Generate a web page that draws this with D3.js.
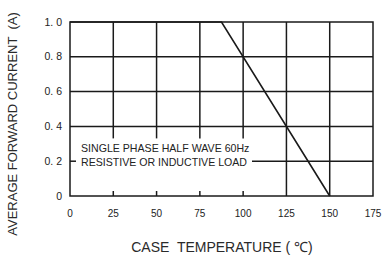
<!DOCTYPE html>
<html>
<head>
<meta charset="utf-8">
<script src="https://cdn.jsdelivr.net/npm/d3@7"></script>
<style>
  body { margin: 0; background: #fff; }
  svg { display: block; font-family: "Liberation Sans", Arial, sans-serif; }
</style>
</head>
<body>
<div id="chart"></div>
<script>
// data
var xTicks = [0, 25, 50, 75, 100, 125, 150, 175];
var yTicks = [0, 0.2, 0.4, 0.6, 0.8, 1.0];
var yTickLabels = ["0", "0. 2", "0. 4", "0. 6", "0. 8", "1. 0"];
var curveTemp = [0, 87.5, 150];
var curveCurrent = [1.0, 1.0, 0];
var noteLines = ["SINGLE PHASE HALF WAVE 60Hz", "RESISTIVE OR INDUCTIVE LOAD"];

var margin = {top: 22, right: 13, bottom: 63, left: 70},
  width = 386 - margin.left - margin.right,
  height = 259 - margin.top - margin.bottom;

var svg = d3.select("#chart")
  .append("svg")
    .attr("width", 386)
    .attr("height", 259)
  .append("g")
    .attr("transform", "translate(" + margin.left + "," + margin.top + ")");

var x = d3.scaleLinear().domain([0, 175]).range([0, width]);
var y = d3.scaleLinear().domain([0, 1]).range([height, 0]);

var ink = "#1a1a1a";
var boxRight = 252 - margin.left; // text box edge (0.2 line starts here)

// vertical grid lines; the ones under the text box are cut
xTicks.forEach(function(t) {
  if (t > 0 && t < 125) {
    svg.append("line")
      .attr("x1", x(t)).attr("x2", x(t))
      .attr("y1", y(1)).attr("y2", y(0.4) + 12)
      .attr("stroke", ink).attr("stroke-width", 1.5);
    svg.append("line")
      .attr("x1", x(t)).attr("x2", x(t))
      .attr("y1", y(0) - 5).attr("y2", y(0))
      .attr("stroke", ink).attr("stroke-width", 1.5);
  } else if (t > 0 && t < 175) {
    svg.append("line")
      .attr("x1", x(t)).attr("x2", x(t))
      .attr("y1", y(1)).attr("y2", y(0))
      .attr("stroke", ink).attr("stroke-width", 1.5);
  }
});

// horizontal grid lines
yTicks.forEach(function(t) {
  if (t == 0.2) {
    svg.append("line")
      .attr("x1", 0).attr("x2", 6)
      .attr("y1", y(t)).attr("y2", y(t))
      .attr("stroke", ink).attr("stroke-width", 1.5);
    svg.append("line")
      .attr("x1", boxRight).attr("x2", width)
      .attr("y1", y(t)).attr("y2", y(t))
      .attr("stroke", ink).attr("stroke-width", 1.5);
  } else if (t > 0 && t < 1) {
    svg.append("line")
      .attr("x1", 0).attr("x2", width)
      .attr("y1", y(t)).attr("y2", y(t))
      .attr("stroke", ink).attr("stroke-width", 1.5);
  }
});

// frame
svg.append("rect")
  .attr("x", 0).attr("y", 0)
  .attr("width", width).attr("height", height)
  .attr("fill", "none")
  .attr("stroke", ink).attr("stroke-width", 1.5);

// derating curve
var line = d3.line()
  .x(function(d, i) { return x(curveTemp[i]); })
  .y(function(d) { return y(d); });

svg.append("path")
  .attr("d", line(curveCurrent))
  .attr("fill", "none")
  .attr("stroke", ink)
  .attr("stroke-width", 1.6);

// tick labels
svg.selectAll(".xlab")
  .data(xTicks)
  .enter().append("text")
    .attr("x", function(d) { return x(d); })
    .attr("y", height + 21)
    .attr("text-anchor", "middle")
    .style("font-size", "10px")
    .attr("fill", "#222")
    .text(function(d) { return d; });

svg.selectAll(".ylab")
  .data(yTicks)
  .enter().append("text")
    .attr("x", -8)
    .attr("y", function(d) { return y(d) + 3.5; })
    .attr("text-anchor", "end")
    .style("font-size", "10.5px")
    .attr("fill", "#222")
    .text(function(d, i) { return yTickLabels[i]; });

// note
svg.selectAll(".note")
  .data(noteLines)
  .enter().append("text")
    .attr("x", 81 - margin.left)
    .attr("y", function(d, i) { return 152 - margin.top + i * 14; })
    .style("font-size", "10.6px")
    .attr("fill", "#222")
    .text(function(d) { return d; });

// axis titles
svg.append("text")
  .attr("x", 222 - margin.left)
  .attr("y", 252 - margin.top)
  .attr("text-anchor", "middle")
  .style("font-size", "14px")
  .attr("fill", "#2a2a2a")
  .attr("xml:space", "preserve")
  .text("CASE  TEMPERATURE ( \u2103)");

svg.append("text")
  .attr("transform", "rotate(-90)")
  .attr("x", -(124 - margin.top))
  .attr("y", 17 - margin.left)
  .attr("text-anchor", "middle")
  .style("font-size", "13px")
  .attr("fill", "#2a2a2a")
  .attr("xml:space", "preserve")
  .text("AVERAGE FORWARD CURRENT  (A)");
</script>
</body>
</html>
